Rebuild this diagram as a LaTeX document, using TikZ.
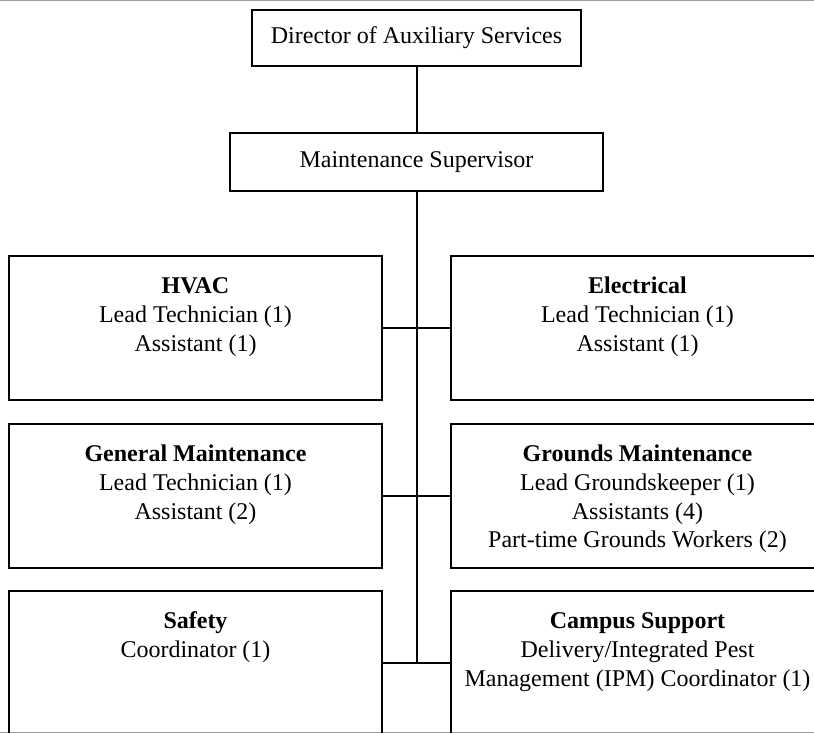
\documentclass[tikz,border=0pt]{standalone}
\usepackage{fontspec}
\setmainfont{Liberation Serif}
\usetikzlibrary{calc}
\begin{document}
\begin{tikzpicture}[x=0.5pt,y=-0.5pt,
  box/.style={draw=black,line width=1.1pt,minimum width=186.5pt,minimum height=72pt,inner sep=0pt,outer sep=0pt},
  topbox/.style={draw=black,line width=1.1pt,inner sep=0pt,outer sep=0pt,font=\fontsize{12}{14.4}\selectfont},
  txt/.style={anchor=north,align=center,inner sep=0pt,font=\fontsize{12}{14.4}\selectfont},
  conn/.style={draw=black,line width=1pt},
  edge/.style={draw=black!38,line width=0.5pt}]
\clip (0,0) rectangle (814,733);
\fill[white] (0,0) rectangle (814,733);
\draw[edge] (0,0.5) -- (814,0.5);
\draw[edge] (0,732.5) -- (814,732.5);
% top boxes
\node[topbox,minimum width=164.5pt,minimum height=28pt] (dir) at (416.5,38) {Director of Auxiliary Services};
\node[topbox,minimum width=186.5pt,minimum height=29pt] (sup) at (416.5,162) {Maintenance Supervisor};
% department boxes
\node[box] (hvac) at (195.5,328) {};
\node[box] (elec) at (637.5,328) {};
\node[box] (gen) at (195.5,496) {};
\node[box] (grd) at (637.5,496) {};
\node[box] (saf) at (195.5,663) {};
\node[box] (cam) at (637.5,663) {};
% texts
\node[txt] (thvac) at ($(hvac.north)+(0,17)$) {\strut\textbf{HVAC}\\Lead Technician (1)\\Assistant (1)};
\node[txt] (telec) at ($(elec.north)+(0,17)$) {\strut\textbf{Electrical}\\Lead Technician (1)\\Assistant (1)};
\node[txt] (tgen) at ($(gen.north)+(0,17)$) {\strut\textbf{General Maintenance}\\Lead Technician (1)\\Assistant (2)};
\node[txt] (tgrd) at ($(grd.north)+(0,17)$) {\strut\textbf{Grounds Maintenance}\\Lead Groundskeeper (1)\\Assistants (4)\\Part-time Grounds Workers (2)};
\node[txt] (tsaf) at ($(saf.north)+(0,17)$) {\strut\textbf{Safety}\\Coordinator (1)};
\node[txt] (tcam) at ($(cam.north)+(0,17)$) {\strut\textbf{Campus Support}\\Delivery/Integrated Pest\\Management (IPM) Coordinator (1)};
% connectors
\coordinate (tend) at (sup.south |- saf.east);
\draw[conn] (dir.south) -- (sup.north);
\draw[conn] (sup.south) -- (tend);
\draw[conn] (hvac.east) -- (elec.west);
\draw[conn] (gen.east) -- (grd.west);
\draw[conn] (saf.east) -- (cam.west);
\end{tikzpicture}
\end{document}
